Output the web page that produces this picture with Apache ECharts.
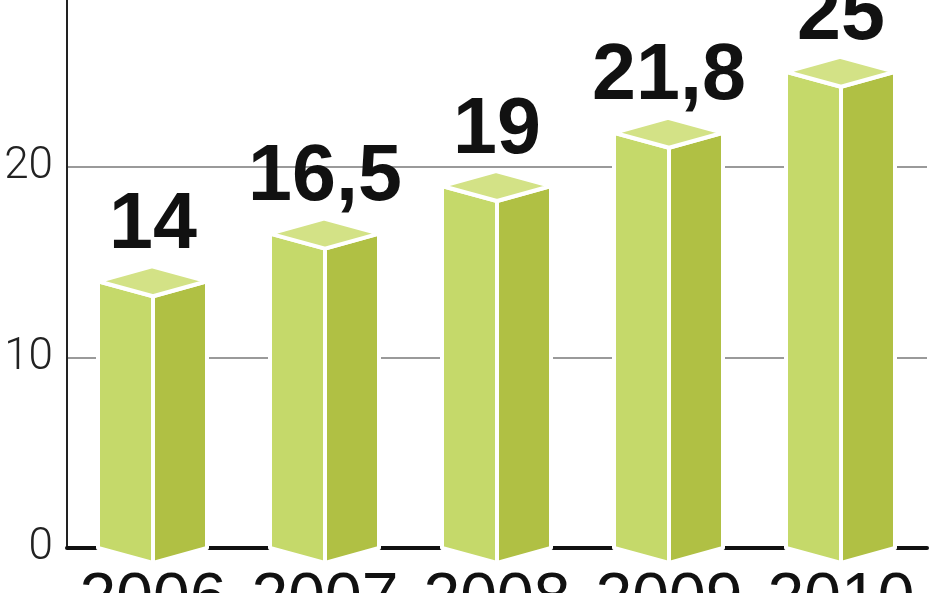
<!DOCTYPE html>
<html>
<head>
<meta charset="utf-8">
<script src="https://cdn.jsdelivr.net/npm/echarts@6/dist/echarts.min.js"></script>
<style>
html,body{margin:0;padding:0;background:#fff;}
#chart{width:948px;height:593px;}
</style>
</head>
<body>
<div id="chart"></div>
<script>
const categories = ['2006', '2007', '2008', '2009', '2010'];
const values = [14, 16.5, 19, 21.8, 25];
const yTicks = [0, 10, 20, 30];

const LEFT = '#c5d96a';
const RIGHT = '#b0c044';
const TOP = '#d3e286';

const chart = echarts.init(document.getElementById('chart'));

chart.setOption({
  animation: false,
  backgroundColor: '#ffffff',
  grid: { left: 67, right: 21, top: -23.5, bottom: 45, containLabel: false, outerBoundsMode: 'none' },
  xAxis: {
    type: 'category',
    data: categories,
    axisLine: { show: true, lineStyle: { color: '#111', width: 4 } },
    axisTick: { show: false },
    axisLabel: {
      interval: 0,
      hideOverlap: false,
      color: '#111',
      fontSize: 66,
      fontFamily: 'Liberation Sans, Arial, sans-serif',
      margin: 20
    },
    splitLine: { show: false }
  },
  yAxis: {
    type: 'value',
    min: yTicks[0],
    max: yTicks[yTicks.length - 1],
    interval: 10,
    axisLine: { show: true, lineStyle: { color: '#222', width: 2 } },
    axisTick: { show: false },
    axisLabel: {
      color: '#222',
      fontSize: 44,
      fontWeight: 300,
      fontFamily: 'Roboto, Lato, Liberation Sans, sans-serif',
      margin: 14
    },
    splitLine: { show: true, lineStyle: { color: '#9a9a9a', width: 2 } }
  },
  series: [{
    type: 'custom',
    data: values.map((v, i) => [i, v]),
    clip: false,
    z: 5,
    renderItem: function (params, api) {
      const i = api.value(0);
      const v = api.value(1);
      const top = api.coord([i, v]);
      const base = api.coord([i, 0]);
      const c = top[0];
      const yt = top[1];
      const yb = base[1];
      const L = c - 55, R = c + 54, d = 15;
      const label = String(values[params.dataIndex]).replace('.', ',');
      return {
        type: 'group',
        children: [
          { type: 'polygon', shape: { points: [[L, yt], [c, yt + d], [c, yb + d], [L, yb]] },
            style: { fill: LEFT, stroke: '#ffffff', lineWidth: 4, lineJoin: 'round' } },
          { type: 'polygon', shape: { points: [[c, yt + d], [R, yt], [R, yb], [c, yb + d]] },
            style: { fill: RIGHT, stroke: '#ffffff', lineWidth: 4, lineJoin: 'round' } },
          { type: 'polygon', shape: { points: [[L, yt], [c, yt + d], [R, yt], [c - 1, yt - d]] },
            style: { fill: TOP, stroke: '#ffffff', lineWidth: 4, lineJoin: 'round' } },
          { type: 'text',
            style: { text: label, x: c, y: yt - 55, align: 'center', verticalAlign: 'middle',
                     fill: '#111', font: 'bold 79px "Liberation Sans", Arial, sans-serif' } }
        ]
      };
    }
  }]
});
</script>
</body>
</html>
